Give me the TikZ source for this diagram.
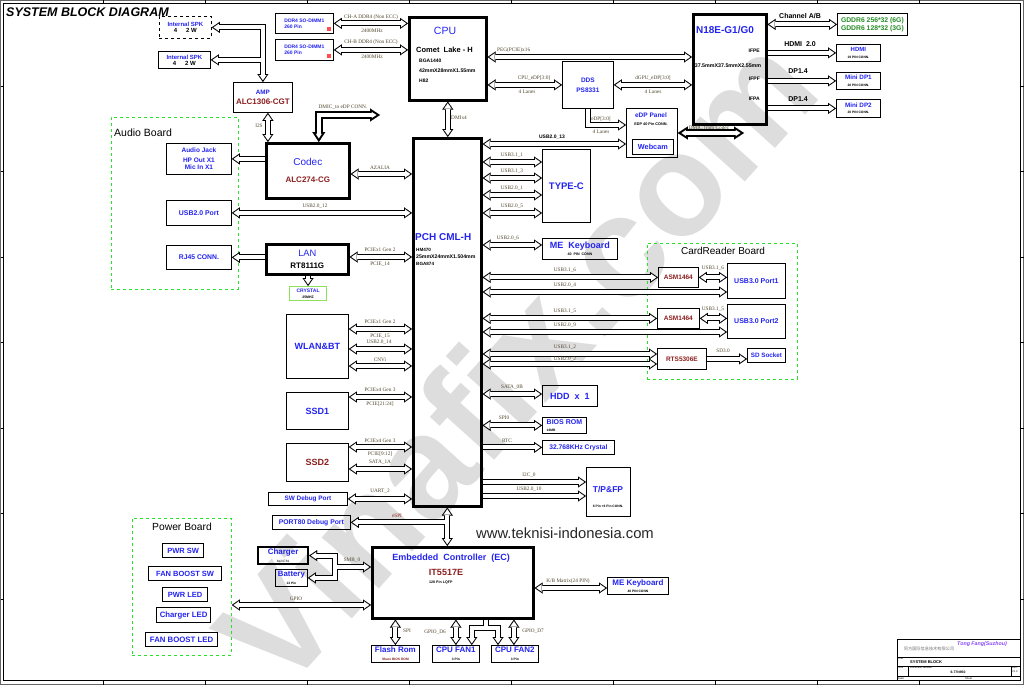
\documentclass[tikz,border=0pt]{standalone}
\usepackage{fontspec}
\setmainfont{Liberation Sans}
\newfontfamily\sigfont{Liberation Serif}
\newfontfamily\cjkfont{Noto Sans CJK SC}
\usetikzlibrary{arrows.meta}
\definecolor{sbdBlue}{RGB}{35,35,240}
\definecolor{sbdRed}{RGB}{140,30,30}
\definecolor{sbdGreen}{RGB}{35,140,35}
\definecolor{sbdBoard}{RGB}{40,225,40}
\definecolor{sbdLime}{RGB}{140,225,90}
\definecolor{sbdSig}{RGB}{80,70,45}
\definecolor{sbdPurple}{RGB}{135,70,255}
\definecolor{sbdMark}{RGB}{221,221,221}
\newcommand{\sz}[1]{\fontsize{#1}{#1}\selectfont}

\begin{document}
\begin{tikzpicture}[x=1pt, y=-1pt,
  box/.style={draw, line width=0.8pt, anchor=north west, inner sep=0pt, align=center},
  heavy/.style={box, line width=2.6pt},
  pbox/.style={box, line width=1.2pt, text=sbdBlue},
  board/.style={draw=sbdBoard, dashed, line width=0.8pt, anchor=north west, inner sep=0pt},
  txt/.style={inner sep=0pt, font=\bfseries},
  sig/.style={inner sep=0pt, text=sbdSig, font=\sigfont\sz{5.3}},
  busTip/.tip={Triangle[length=8pt, width=11pt, line width=0.01pt]},
  busHole/.tip={Triangle[length=5.2pt, width=7.2pt, line width=0.01pt]},
  fatTip/.tip={Triangle[length=10pt, width=13pt, line width=0.01pt]},
  fatHole/.tip={Triangle[length=4.4pt, width=5.7pt, line width=0.01pt]},
  busline2/.style={draw, line width=6pt, arrows={busTip-busTip}},
  busline1/.style={draw, line width=6pt, arrows={-busTip}},
  hole2/.style={draw=white, line width=4pt, shorten <=1.8pt, shorten >=1.8pt, arrows={busHole-busHole}},
  hole1/.style={draw=white, line width=4pt, shorten >=1.8pt, arrows={-busHole}},
  bus2/.style={busline2, postaction={hole2}},
  bus1/.style={busline1, postaction={hole1}},
  fatbus/.style={draw, line width=8pt, arrows={fatTip-fatTip},
    postaction={draw=white, line width=4pt, shorten <=3.7pt, shorten >=3.7pt, arrows={fatHole-fatHole}}}
]
\useasboundingbox (0,0) rectangle (1024,685);

% watermark and sheet frame
\node[text=sbdMark, font=\bfseries\sz{145}, rotate=48, inner sep=0pt] (wmark) at (515,360) {Vinafix.com};
\draw[black!60, line width=0.5pt] (0.5,0.5) rectangle (1023.5,684.5);
\draw[line width=0.8pt] (3,3) rectangle (1020,680);
\foreach \tx in {103,205,307,409,511,613,715,817,919} {
  \draw[line width=0.5pt] (\tx,0.5) -- (\tx,3) (\tx,680) -- (\tx,684.5);
}
\foreach \ty in {86,171,257,342,428,513,599} {
  \draw[line width=0.5pt] (0.5,\ty) -- (3,\ty) (1020,\ty) -- (1023.5,\ty);
}
\node[txt, anchor=west, font=\bfseries\itshape\sz{12.5}] (title) at (6,12) {SYSTEM BLOCK DIAGRAM};

% boards
\node[board, minimum width=127, minimum height=172] (audioBoard) at (111,117) {};
\node[txt, anchor=west, font=\sz{10.5}] (audioTitle) at (114,133) {Audio Board};
\node[board, minimum width=150, minimum height=136] (cardBoard) at (647,243) {};
\node[txt, font=\sz{10}] (cardTitle) at (723,251) {CardReader Board};
\node[board, minimum width=99, minimum height=137] (powerBoard) at (132,518) {};
\node[txt, font=\sz{10.3}] (powerTitle) at (182,527) {Power Board};

% left column
\node[box, dashed, font=\bfseries\sz{6}, minimum width=52, minimum height=22] (spkA) at (159,16) {\textcolor{sbdBlue}{Internal\ SPK}\\4\hspace{9pt}2 W};
\node[box, font=\bfseries\sz{6}, minimum width=52, minimum height=17] (spkB) at (158,51) {\textcolor{sbdBlue}{Internal\ SPK}\\4\hspace{9pt}2 W};
\node[box, font=\bfseries\sz{6.3}, minimum width=59, minimum height=30] (amp) at (233,82) {\textcolor{sbdBlue}{AMP}\\[3.7pt]\sz{8}\textcolor{sbdRed}{ALC1306-CGT}};
\node[heavy, font=\sz{10}, minimum width=83, minimum height=55] (codec) at (265,142) {\textcolor{sbdBlue}{Codec}\\[7pt]\bfseries\sz{8}\textcolor{sbdRed}{ALC274-CG}};
\node[box, text=sbdBlue, font=\bfseries\sz{6.5}, minimum width=65, minimum height=31] (jack) at (166,143) {Audio Jack\\[3pt]HP Out X1\\[1pt]Mic In X1};
\node[box, text=sbdBlue, font=\bfseries\sz{6.9}, minimum width=65, minimum height=25] (usbPort) at (166,200) {USB2.0 Port};
\node[box, text=sbdBlue, font=\bfseries\sz{6.8}, minimum width=65, minimum height=24] (rj45) at (166,245) {RJ45 CONN.};
\node[heavy, font=\sz{9.3}, minimum width=82, minimum height=30] (lan) at (265,243) {\textcolor{sbdBlue}{LAN}\\[2.7pt]\bfseries\sz{8}RT8111G};
\node[box, draw=sbdLime, line width=1.1pt, font=\bfseries\sz{5}, minimum width=37, minimum height=14] (xtal) at (289,286) {\textcolor{sbdBlue}{CRYSTAL}\\[0.5pt]\sz{3.5}25MHZ};
\node[box, text=sbdBlue, font=\bfseries\sz{9}, minimum width=62, minimum height=64] (wlan) at (286,314) {WLAN\&BT};
\node[box, text=sbdBlue, font=\bfseries\sz{9}, minimum width=62, minimum height=37] (ssd1) at (286,392) {SSD1};
\node[box, text=sbdRed, font=\bfseries\sz{9}, minimum width=62, minimum height=38] (ssd2) at (286,443) {SSD2};
\node[box, text=sbdBlue, font=\bfseries\sz{6.4}, minimum width=79, minimum height=13] (swdbg) at (268,492) {SW Debug Port};
\node[box, text=sbdBlue, font=\bfseries\sz{6.8}, minimum width=78, minimum height=14] (p80) at (272,515) {PORT80 Debug Port};
\node[box, line width=2.2pt, font=\bfseries\sz{8}, minimum width=50, minimum height=17] (charger) at (257,546) {\textcolor{sbdBlue}{Charger}\\[0.3pt]\mdseries\sz{3.2}bq24781};
\node[box, font=\bfseries\sz{7.8}, minimum width=32, minimum height=17] (battery) at (275,569) {\textcolor{sbdBlue}{Battery}\\[0.3pt]\sz{3.2}13 Pin};
\node[pbox, font=\bfseries\sz{7.5}, minimum width=41, minimum height=14] (pwrSw) at (162,543) {PWR SW};
\node[pbox, font=\bfseries\sz{7.5}, minimum width=73, minimum height=14] (fanSw) at (148,566) {FAN BOOST SW};
\node[pbox, font=\bfseries\sz{7.5}, minimum width=45, minimum height=14] (pwrLed) at (162,587) {PWR LED};
\node[pbox, font=\bfseries\sz{7.8}, minimum width=54, minimum height=15] (chgLed) at (156,607) {Charger LED};
\node[pbox, font=\bfseries\sz{7.8}, minimum width=72, minimum height=14] (fanLed) at (145,632) {FAN BOOST LED};

% cpu and gpu
\node[box, text=sbdBlue, align=left, font=\bfseries\sz{5}, minimum width=58, minimum height=20] (dimmA) at (275,13) {DDR4 SO-DIMM1\\[1pt]260 Pin};
\node[box, text=sbdBlue, align=left, font=\bfseries\sz{5}, minimum width=58, minimum height=21] (dimmB) at (275,39) {DDR4 SO-DIMM1\\[1pt]260 Pin};
\node[fill=red!70, minimum size=4pt, inner sep=0pt, anchor=south east] (dimmAMark) at ([xshift=-3pt, yshift=3pt]dimmA.south east) {};
\node[fill=red!70, minimum size=4pt, inner sep=0pt, anchor=south east] (dimmBMark) at ([xshift=-3pt, yshift=3pt]dimmB.south east) {};
\node[heavy, minimum width=77, minimum height=83] (cpu) at (408,16) {};
\node[txt, text=sbdBlue, font=\sz{10.5}] (cpuName) at (445,31) {CPU};
\node[txt, anchor=west, font=\bfseries\sz{7.5}] (cpuCore) at (416,50) {Comet\ \ Lake - H};
\node[txt, anchor=west, font=\bfseries\sz{5}] (cpuPkg) at (419,61) {BGA1440};
\node[txt, anchor=west, font=\bfseries\sz{5.2}] (cpuDim) at (419,71) {42mmX28mmX1.55mm};
\node[txt, anchor=west, font=\bfseries\sz{5}] (cpuChip) at (419,81) {H82};
\node[box, text=sbdBlue, font=\bfseries\sz{6.5}, minimum width=51, minimum height=47] (dds) at (562,61) {DDS\\[3.5pt]PS8331};
\node[box, minimum width=51, minimum height=49] (edp) at (626,108) {};
\node[txt, text=sbdBlue, font=\bfseries\sz{6.5}] (edpName) at (651,115.5) {eDP Panel};
\node[txt, font=\bfseries\sz{3.8}] (edpConn) at (651,124) {EDP 40 Pin CONN.};
\node[box, text=sbdBlue, font=\bfseries\sz{7.3}, minimum width=41, minimum height=15] (webcam) at (632,139) {Webcam};
\node[heavy, minimum width=73, minimum height=110] (n18e) at (692,13) {};
\node[txt, text=sbdBlue, font=\bfseries\sz{10}] (gpuName) at (725,30) {N18E-G1/G0};
\node[txt, anchor=east, font=\bfseries\sz{5}] (ifpe) at (760,51) {IFPE};
\node[txt, font=\bfseries\sz{5.3}] (gpuDim) at (728,66) {37.5mmX37.5mmX2.55mm};
\node[txt, anchor=east, font=\bfseries\sz{5}] (ifpf) at (760,79) {IFPF};
\node[txt, anchor=east, font=\bfseries\sz{5}] (ifpa) at (760,99) {IFPA};
\node[box, text=sbdGreen, font=\bfseries\sz{6.8}, minimum width=70, minimum height=22] (gddr) at (837,13) {GDDR6\ 256*32\ (6G)\\[1.2pt]GDDR6\ 128*32\ (3G)};
\node[box, font=\bfseries\sz{6}, minimum width=44, minimum height=17] (hdmi) at (836,44) {\textcolor{sbdBlue}{HDMI}\\[0.5pt]\sz{3.3}19 PIN CONN.};
\node[box, font=\bfseries\sz{6.3}, minimum width=44, minimum height=17] (mdp1) at (836,72) {\textcolor{sbdBlue}{Mini DP1}\\[0.2pt]\sz{3.3}20 PIN CONN.};
\node[box, font=\bfseries\sz{6.3}, minimum width=44, minimum height=18] (mdp2) at (836,99) {\textcolor{sbdBlue}{Mini DP2}\\[0.2pt]\sz{3.3}20 PIN CONN.};

% pch and its right side
\node[heavy, minimum width=68, minimum height=368] (pch) at (412,137) {};
\node[txt, anchor=west, text=sbdBlue, font=\bfseries\sz{10}] (pchName) at (415,237) {PCH CML-H};
\node[txt, anchor=west, font=\bfseries\sz{4.6}] (pchChip) at (416,250) {HM470};
\node[txt, anchor=west, font=\bfseries\sz{5.2}] (pchDim) at (416,257) {25mmX24mmX1.504mm};
\node[txt, anchor=west, font=\bfseries\sz{4.6}] (pchPkg) at (416,263.5) {BGA874};
\node[box, text=sbdBlue, font=\bfseries\sz{9.5}, minimum width=48, minimum height=73] (typec) at (542,149) {TYPE-C};
\node[box, font=\bfseries\sz{9}, minimum width=75, minimum height=21] (meKb) at (542,238) {\textcolor{sbdBlue}{ME\ \ Keyboard}\\[-2pt]\sz{3.6}40\ \ PIN\ \ CONN};
\node[box, text=sbdRed, font=\bfseries\sz{6.5}, minimum width=40, minimum height=20] (asmA) at (658,267) {ASM1464};
\node[box, text=sbdBlue, font=\bfseries\sz{7}, minimum width=58, minimum height=35] (port1) at (727,263) {USB3.0 Port1};
\node[box, text=sbdRed, font=\bfseries\sz{6.5}, minimum width=42, minimum height=20] (asmB) at (657,308) {ASM1464};
\node[box, text=sbdBlue, font=\bfseries\sz{7}, minimum width=58, minimum height=34] (port2) at (727,304) {USB3.0 Port2};
\node[box, text=sbdRed, font=\bfseries\sz{6.5}, minimum width=49, minimum height=21] (rts) at (657,348) {RTS5306E};
\node[box, text=sbdBlue, font=\bfseries\sz{6.3}, minimum width=38, minimum height=14] (sdSock) at (747,348) {SD Socket};
\node[box, text=sbdBlue, font=\bfseries\sz{9}, minimum width=55, minimum height=21] (hdd) at (542,385) {HDD\ \ x\ \ 1};
\node[box, align=left, font=\bfseries\sz{7}, minimum width=44, minimum height=16] (bios) at (542,417) {\textcolor{sbdBlue}{BIOS\ ROM}\\[-0.5pt]\sz{3.3}16MB};
\node[box, text=sbdBlue, font=\bfseries\sz{6.7}, minimum width=72, minimum height=14] (rtcX) at (542,440) {32.768KHz\ Crystal};
\node[box, minimum width=44, minimum height=49] (tpfp) at (586,467) {};
\node[txt, text=sbdBlue, font=\bfseries\sz{8.5}] (tpfpName) at (608,489) {T/P\&FP};
\node[txt, font=\bfseries\sz{3.3}] (tpfpConn) at (608,506) {8 Pin +6 Pin CONN.};
\node[txt, font=\sz{14.8}, text=black!85] (site) at (565,533) {www.teknisi-indonesia.com};

% embedded controller
\node[heavy, minimum width=161, minimum height=71] (ec) at (371,546) {};
\node[txt, text=sbdBlue, font=\bfseries\sz{9}] (ecName) at (451,558) {Embedded\ \ Controller\ \ (EC)};
\node[txt, text=sbdRed, font=\bfseries\sz{9}] (ecChip) at (446,572) {IT5517E};
\node[txt, anchor=west, font=\bfseries\sz{3.6}] (ecPkg) at (429,583) {128 Pin LQFP};
\node[box, font=\bfseries\sz{8}, minimum width=61, minimum height=17] (mekb2) at (607,577) {\textcolor{sbdBlue}{ME\ Keyboard}\\[-0.5pt]\sz{3.3}40 PIN CONN};
\node[box, font=\bfseries\sz{8}, minimum width=48, minimum height=17] (flash) at (371,645) {\textcolor{sbdBlue}{Flash Rom}\\\sz{3.3}\textcolor{sbdRed}{Share BIOS ROM}};
\node[box, font=\bfseries\sz{8}, minimum width=47, minimum height=17] (fan1) at (432,645) {\textcolor{sbdBlue}{CPU FAN1}\\\sz{3.3}3 Pin};
\node[box, font=\bfseries\sz{8}, minimum width=47, minimum height=17] (fan2) at (491,645) {\textcolor{sbdBlue}{CPU FAN2}\\\sz{3.3}3 Pin};

% title block
\draw[line width=0.6pt] (897,639) rectangle (1020,680);
\draw[line width=0.4pt] (897,657) -- (1020,657) (897,666) -- (1020,666) (897,676.5) -- (1020,676.5)
  (908,666) -- (908,676.5) (1011,666) -- (1011,676.5);
\node[txt, text=sbdPurple, font=\bfseries\itshape\sz{5.3}] (tbCorp) at (982,644) {Tong Fang(Suzhou)};
\node[txt, text=black!55, font=\cjkfont\sz{4.2}] (tbCn) at (929,649) {同方国际信息技术有限公司};
\node[txt, anchor=west, font=\sz{2.6}] (tbTitle) at (898,659) {Title};
\node[txt, anchor=west, font=\bfseries\sz{4}] (tbName) at (910,662) {SYSTEM BLOCK};
\node[txt, anchor=west, font=\sz{2.6}] (tbSize) at (898,668) {Size};
\node[txt, anchor=west, font=\sz{2.6}] (tbDoc) at (910,668) {Document Number};
\node[txt, font=\bfseries\sz{3.4}] (tbNum) at (958,672) {6-77N950};
\node[txt, anchor=west, font=\sz{2.6}] (tbRev) at (1012,668) {Rev};
\node[txt, anchor=west, font=\sz{2.6}] (tbVer) at (1012,672) {V1.0};
\node[txt, anchor=west, font=\sz{2.6}] (tbDate) at (898,678.3) {Date:};
\node[txt, anchor=west, font=\sz{2.6}] (tbSheet) at (965,678.3) {Sheet};

% audio links
\draw[busline2] (amp.north) |- (spkA.east);
\draw[busline1] (amp.north |- spkB.east) -- (spkB.east);
\draw[hole2] (amp.north) |- (spkA.east);
\draw[hole1] (amp.north |- spkB.east) -- (spkB.east);
\coordinate (i2sTop) at ([xshift=5pt]amp.south);
\draw[bus2] (i2sTop) -- (i2sTop |- codec.north);
\node[sig] (lI2S) at (259,126) {I2S};
\coordinate (dmicA) at ([xshift=11pt]codec.north);
\coordinate (dmicEnd) at (380,115);
\draw[fatbus] (dmicA) |- (dmicEnd);
\node[sig] (lDmicA) at (343,107.5) {DMIC\_to eDP CONN.};
\draw[bus1] (codec.west |- jack.east) -- (jack.east);
\draw[bus2] (codec.east |- 0,174) -- (pch.west |- 0,174);
\node[sig] (lAza) at (380,168) {AZALIA};
\draw[bus2] (pch.west |- usbPort.east) -- (usbPort.east);
\node[sig] (lUsb12) at (315,206) {USB2.0\_12};
\draw[bus1] (lan.west |- rj45.east) -- (rj45.east);
\draw[bus1] (lan.south -| xtal.north) -- (xtal.north);
\draw[bus2] (lan.east |- 0,257) -- (pch.west |- 0,257);
\node[sig] (lLanA) at (380,250) {PCIEx1 Gen 2};
\node[sig] (lLanB) at (380,264) {PCIE\_14};

% pch left side
\draw[bus2] (wlan.east |- 0,329) -- (pch.west |- 0,329);
\node[sig] (lWlA) at (380,322) {PCIEx1 Gen 2};
\node[sig] (lWlB) at (380,336) {PCIE\_15};
\draw[bus2] (wlan.east |- 0,349) -- (pch.west |- 0,349);
\node[sig] (lWlC) at (379,342.5) {USB2.0\_14};
\draw[bus2] (wlan.east |- 0,366) -- (pch.west |- 0,366);
\node[sig] (lWlD) at (380,359.5) {CNVi};
\draw[bus2] (ssd1.east |- 0,397) -- (pch.west |- 0,397);
\node[sig] (lS1A) at (380,390) {PCIEx4 Gen 3};
\node[sig] (lS1B) at (380,404) {PCIE[21:24]};
\draw[bus2] (ssd2.east |- 0,447) -- (pch.west |- 0,447);
\node[sig] (lS2A) at (380,440.5) {PCIEx4 Gen 3};
\node[sig] (lS2B) at (380,454) {PCIE[9:12]};
\draw[bus2] (ssd2.east |- 0,469) -- (pch.west |- 0,469);
\node[sig] (lS2C) at (380,462.5) {SATA\_1A};
\draw[bus2] (swdbg.east) -- (swdbg.east -| pch.west);
\node[sig] (lUart) at (380,491.5) {UART\_2};

% cpu links
\draw[bus2] (dimmA.east) -- (dimmA.east -| cpu.west);
\node[sig] (lChA1) at (371,17) {CH-A DDR4 (Non ECC)};
\node[sig] (lChA2) at (372,30.5) {2400MHz};
\draw[bus2] (dimmB.east) -- (dimmB.east -| cpu.west);
\node[sig] (lChB1) at (371,42.5) {CH-B DDR4 (Non ECC)};
\node[sig] (lChB2) at (372,56.5) {2400MHz};
\draw[bus2] (cpu.east |- 0,57) -- (n18e.west |- 0,57);
\node[sig, anchor=west] (lPeg) at (497,50) {PEG(PCIE)x16};
\draw[bus2] (cpu.east |- dds.west) -- (dds.west);
\node[sig] (lCpuEdp) at (534,78) {CPU\_eDP[3:0]};
\node[sig] (lCpuLanes) at (527,92) {4 Lanes};
\draw[bus2] (dds.east) -- (dds.east -| n18e.west);
\node[sig] (lGpuEdp) at (653,78) {dGPU\_eDP[3:0]};
\node[sig] (lGpuLanes) at (653,92) {4 Lanes};
\draw[bus1] (dds.south) |- (edp.west |- 0,125);
\node[sig] (lEdp) at (601,119) {eDP[3:0]};
\node[sig] (lEdpLanes) at (601,132) {4 Lanes};
\draw[bus2] (pch.east |- 0,144) -- (edp.west |- 0,144);
\node[txt, font=\bfseries\sz{5}] (lUsb13) at (552,137) {USB2.0\_13};
\coordinate (dmicB) at (744,133);
\draw[fatbus] (edp.east |- dmicB) -- (dmicB);
\node[sig] (lDmicB) at (709,127.5) {DMIC from Codec};
\draw[bus2] (cpu.south) -- (cpu.south |- pch.north);
\node[sig, anchor=west] (lDmi) at (451,118) {DMIx4};
\draw[bus2] (n18e.east |- gddr.west) -- (gddr.west);
\node[txt, font=\bfseries\sz{7}] (lChan) at (800,16) {Channel A/B};
\draw[bus1] (n18e.east |- hdmi.west) -- (hdmi.west);
\node[txt, font=\bfseries\sz{7}] (lHdmi) at (800,44) {HDMI\ \ 2.0};
\draw[bus1] (n18e.east |- mdp1.west) -- (mdp1.west);
\node[txt, font=\bfseries\sz{7}] (lDp1) at (798,71.5) {DP1.4};
\draw[bus1] (n18e.east |- mdp2.west) -- (mdp2.west);
\node[txt, font=\bfseries\sz{7}] (lDp2) at (798,99) {DP1.4};

% pch right side
\draw[bus2] (pch.east |- 0,162) -- (typec.west |- 0,162);
\node[sig] (lU311) at (512,155) {USB3.1\_1};
\draw[bus2] (pch.east |- 0,178) -- (typec.west |- 0,178);
\node[sig] (lU313) at (512,171) {USB3.1\_3};
\draw[bus2] (pch.east |- 0,195) -- (typec.west |- 0,195);
\node[sig] (lU201) at (512,188) {USB2.0\_1};
\draw[bus2] (pch.east |- 0,213) -- (typec.west |- 0,213);
\node[sig] (lU205) at (512,206) {USB2.0\_5};
\draw[bus2] (pch.east |- 0,245) -- (meKb.west |- 0,245);
\node[sig] (lU206) at (508,238) {USB2.0\_6};
\draw[bus2] (pch.east |- asmA.west) -- (asmA.west);
\node[sig] (lU316) at (565,270.5) {USB3.1\_6};
\draw[bus2] (pch.east |- 0,292) -- (port1.west |- 0,292);
\node[sig] (lU204) at (565,285) {USB2.0\_4};
\draw[bus2] (pch.east |- asmB.west) -- (asmB.west);
\node[sig] (lU315) at (565,311) {USB3.1\_5};
\draw[bus2] (pch.east |- 0,332) -- (port2.west |- 0,332);
\node[sig] (lU209) at (565,325) {USB2.0\_9};
\draw[bus2] (pch.east |- 0,354) -- (rts.west |- 0,354);
\node[sig] (lU312) at (565,347) {USB3.1\_2};
\draw[bus2] (pch.east |- 0,364) -- (rts.west |- 0,364);
\node[sig] (lU202) at (565,359) {USB2.0\_2};
\draw[bus2] (asmA.east) -- (asmA.east -| port1.west);
\node[sig] (lCr6) at (713,268.5) {USB3.1\_6};
\draw[bus2] (asmB.east) -- (asmB.east -| port2.west);
\node[sig] (lCr5) at (713,309.5) {USB3.1\_5};
\draw[bus1] (rts.east) -- (rts.east -| sdSock.west);
\node[sig] (lSd) at (723,351) {SD3.0};
\draw[bus2] (pch.east |- 0,394) -- (hdd.west |- 0,394);
\node[sig] (lSata) at (512,387) {SATA\_0B};
\draw[bus2] (pch.east |- bios.west) -- (bios.west);
\node[sig] (lSpi0) at (504,418) {SPI0};
\draw[bus1] (pch.east |- rtcX.west) -- (rtcX.west);
\node[sig] (lRtc) at (507,440.5) {RTC};
\draw[bus1] (pch.east |- 0,482) -- (tpfp.west |- 0,482);
\node[sig] (lI2c) at (529,475) {I2C\_0};
\draw[bus1] (pch.east |- 0,496) -- (tpfp.west |- 0,496);
\node[sig] (lU210) at (529,489) {USB2.0\_10};

% ec links
\draw[busline2] (pch.south) -- (pch.south |- ec.north);
\draw[busline1] (pch.south |- p80.east) -- (p80.east);
\draw[hole2] (pch.south) -- (pch.south |- ec.north);
\draw[hole1] (pch.south |- p80.east) -- (p80.east);
\node[sig, text=sbdRed] (lEspi) at (397,516) {eSPI};
\coordinate (smbJ) at (335,567);
\draw[busline2] (ec.west |- smbJ) -- (smbJ) |- (charger.east);
\draw[busline1] (smbJ) |- (battery.east);
\draw[hole2] (ec.west |- smbJ) -- (smbJ) |- (charger.east);
\draw[hole1] (smbJ) |- (battery.east);
\node[sig] (lSmb) at (352,560.5) {SMB\_0};
\draw[bus2] (ec.west |- 0,605) -- (powerBoard.east |- 0,605);
\node[sig] (lGpio) at (296,598.5) {GPIO};
\draw[bus2] (ec.east |- 0,588) -- (mekb2.west |- 0,588);
\node[sig] (lKb) at (568,581.5) {K/B Matrix(24 PIN)};
\draw[bus2] (flash.north |- ec.south) -- (flash.north);
\node[sig] (lSpi) at (407,631) {SPI};
\draw[bus2] (fan1.north |- ec.south) -- (fan1.north);
\node[sig] (lD6) at (435,632) {GPIO\_D6};
\coordinate (fanJ) at (486,628);
\coordinate (fanL) at ([xshift=-8pt]fan1.north east);
\coordinate (fanR) at ([xshift=7pt]fan2.north west);
\draw[busline1] (ec.south -| fanJ) -- (fanJ) -| (fanL);
\draw[busline1] (fanJ) -| (fanR);
\draw[hole1] (ec.south -| fanJ) -- (fanJ) -| (fanL);
\draw[hole1] (fanJ) -| (fanR);
\coordinate (d7Top) at ([xshift=-1pt]fan2.north);
\draw[bus2] (d7Top |- ec.south) -- (d7Top);
\node[sig] (lD7) at (533,631) {GPIO\_D7};
\end{tikzpicture}
\end{document}
